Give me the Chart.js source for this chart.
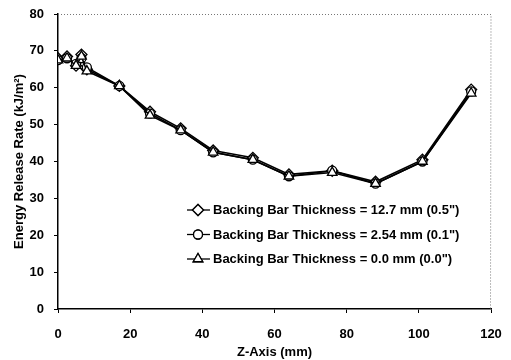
<!DOCTYPE html>
<html>
<head>
<meta charset="utf-8">
<script src="https://cdn.jsdelivr.net/npm/chart.js@4"></script>
<style>
  html, body { margin: 0; padding: 0; background: #fff; }
  #wrap { width: 511px; height: 360px; }
</style>
</head>
<body>
<div id="wrap"><canvas id="c" width="511" height="360"></canvas></div>
<script>
/* ── Data ───────────────────────────────────────── */
const zAxis       = [0, 2.5, 5, 6.5, 8, 17, 25.5, 34, 43, 54, 64, 76, 88, 101, 114.5];
const bar127      = [68, 68.5, 66, 69, 65, 60.5, 53.5, 49, 43, 41, 36.5, 37.5, 34.5, 40.5, 59.5];
const bar254      = [67.5, 68, 66.5, 68, 65.5, 60.5, 53, 48.5, 42.5, 40.5, 36, 37.5, 34, 40, 59];
const bar00       = [67.5, 68, 66, 68.5, 64.5, 60.5, 52.5, 48.5, 42.5, 40.5, 36, 37, 34, 40, 58.5];
const seriesNames = [
  'Backing Bar Thickness = 12.7 mm (0.5")',
  'Backing Bar Thickness = 2.54 mm (0.1")',
  'Backing Bar Thickness = 0.0 mm (0.0")'
];
const xTicks = [0, 20, 40, 60, 80, 100, 120];
const yTicks = [0, 10, 20, 30, 40, 50, 60, 70, 80];

const FONT = '"Liberation Sans", Arial, sans-serif';
const pts = ys => zAxis.map((x, i) => ({ x, y: ys[i] }));

function series(label, ys, style, radius, order) {
  return {
    label, data: pts(ys), showLine: true, order,
    borderColor: '#000', borderWidth: 1.6,
    pointStyle: style, pointRadius: radius,
    pointBackgroundColor: '#fff', pointBorderColor: '#000', pointBorderWidth: 1.3
  };
}

/* ── Frame + legend drawn in-plot ───────────────── */
const framePlugin = {
  id: 'frame',
  afterDraw(chart) {
    const { ctx, chartArea: a } = chart;
    ctx.save();
    ctx.strokeStyle = '#777';
    ctx.lineWidth = 1;
    ctx.setLineDash([1, 2]);
    ctx.beginPath();
    ctx.moveTo(a.left, a.top + 0.5);
    ctx.lineTo(a.right, a.top + 0.5);
    ctx.lineTo(a.right - 0.5, a.bottom);
    ctx.stroke();
    ctx.setLineDash([]);

    // legend
    const x0 = 187, x1 = 210, mx = 198, tx = 213;
    const rows = [210, 234.5, 259];
    ctx.font = 'bold 13px ' + FONT;
    ctx.textBaseline = 'middle';
    chart.data.datasets.forEach((ds, i) => {
      const y = rows[i];
      ctx.strokeStyle = '#000';
      ctx.lineWidth = 1.3;
      ctx.beginPath();
      ctx.moveTo(x0, y); ctx.lineTo(x1, y);
      ctx.stroke();
      ctx.fillStyle = '#fff';
      Chart.helpers.drawPoint(ctx, {
        pointStyle: ds.pointStyle, radius: ds.pointRadius, borderWidth: 1.2, rotation: 0
      }, mx, y);
      ctx.fill();
      ctx.stroke();
      ctx.fillStyle = '#000';
      ctx.fillText(ds.label, tx, y + 0.5);
    });
    ctx.restore();
  }
};

new Chart(document.getElementById('c'), {
  type: 'scatter',
  data: {
    datasets: [
      series(seriesNames[0], bar127, 'rectRot', 5.5, 2),
      series(seriesNames[1], bar254, 'circle', 4.5, 1),
      series(seriesNames[2], bar00, 'triangle', 5.5, 0)
    ]
  },
  options: {
    responsive: false,
    animation: false,
    layout: { padding: { top: 14, right: 20, left: 0, bottom: 0 } },
    plugins: { legend: { display: false }, tooltip: { enabled: false } },
    scales: {
      x: {
        type: 'linear', min: 0, max: 120,
        afterBuildTicks: s => { s.ticks = xTicks.map(v => ({ value: v })); },
        afterFit: s => { s.height = 51; s.paddingLeft = 0; s.paddingRight = 0; },
        grid: { drawOnChartArea: false, tickLength: 4, color: '#000', tickWidth: 1 },
        border: { color: '#000', width: 1.5 },
        ticks: { color: '#000', padding: 14, font: { family: FONT, size: 13, weight: 'bold' } },
        title: {
          display: true, text: 'Z-Axis (mm)', color: '#000',
          padding: { top: 2, bottom: 0 },
          font: { family: FONT, size: 13, weight: 'bold' }
        }
      },
      y: {
        type: 'linear', min: 0, max: 80,
        afterBuildTicks: s => { s.ticks = yTicks.map(v => ({ value: v })); },
        afterFit: s => { s.width = 58; s.paddingTop = 0; s.paddingBottom = 0; },
        grid: { drawOnChartArea: false, tickLength: 4, color: '#000', tickWidth: 1 },
        border: { color: '#000', width: 1.5 },
        ticks: { color: '#000', padding: 10, font: { family: FONT, size: 13, weight: 'bold' } },
        title: {
          display: true, text: 'Energy Release Rate (kJ/m²)', color: '#000',
          padding: { top: 12, bottom: 0 },
          font: { family: FONT, size: 13, weight: 'bold' }
        }
      }
    }
  },
  plugins: [framePlugin]
});
</script>
</body>
</html>
